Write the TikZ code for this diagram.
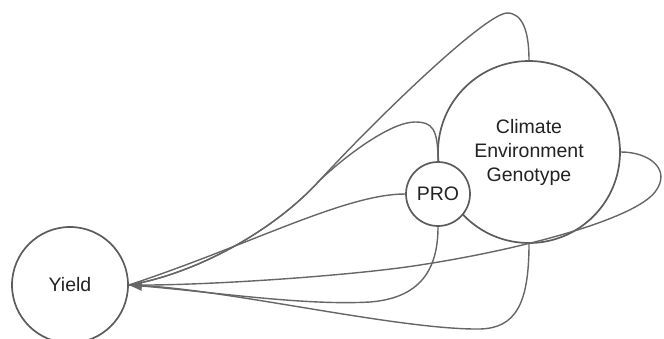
\documentclass[tikz,border=0pt]{standalone}
\usepackage{fontspec}
\setmainfont{Liberation Sans}
\usetikzlibrary{arrows.meta}
\definecolor{linegray}{HTML}{666666}
\definecolor{circgray}{HTML}{5C5C5C}
\definecolor{txt}{HTML}{222222}
\begin{document}
\begin{tikzpicture}[x=1pt,y=-1pt,
  circ/.style={circle,draw=circgray,line width=1.7pt,fill=white,inner sep=0pt,
    text=txt,font=\fontsize{19.5}{24}\selectfont,align=center},
  link/.style={draw=linegray,line width=1.4pt},
  tip/.style={-{Triangle[length=13pt,width=10pt]}}]
\useasboundingbox (0,0) rectangle (664,338);
\node[circ,minimum size=116pt] (Y) at (70,285) {Yield};
\node[circ,minimum size=182pt] (B) at (529,152) {Climate\\Environment\\Genotype};
\node[circ,minimum size=64pt] (P) at (438,194) {PRO};
% edges
\path[link] (B.north) .. controls (529,30) and (522,13) .. (507,13)
  .. controls (485,14) and (380,115) .. (320,180)
  .. controls (270,235) and (190,275) .. (Y.east);
\path[link] (P.north) .. controls (438,128) and (432,122) .. (415,122)
  .. controls (392,122) and (350,152) .. (320,180)
  .. controls (270,235) and (190,275) .. (Y.east);
\path[link] (P.west) .. controls (345,194) and (250,245) .. (Y.east);
\path[link] (B.east) .. controls (650,152) and (672,170) .. (655,192)
  .. controls (635,218) and (530,248) .. (420,265)
  .. controls (350,276) and (200,286) .. (Y.east);
\path[link] (P.south) .. controls (438,270) and (420,298) .. (370,302)
  .. controls (300,306) and (200,290) .. (Y.east);
\path[link,tip] (B.south) .. controls (529,305) and (515,328) .. (480,329)
  .. controls (400,330) and (230,290) .. (Y.east);
\end{tikzpicture}
\end{document}
